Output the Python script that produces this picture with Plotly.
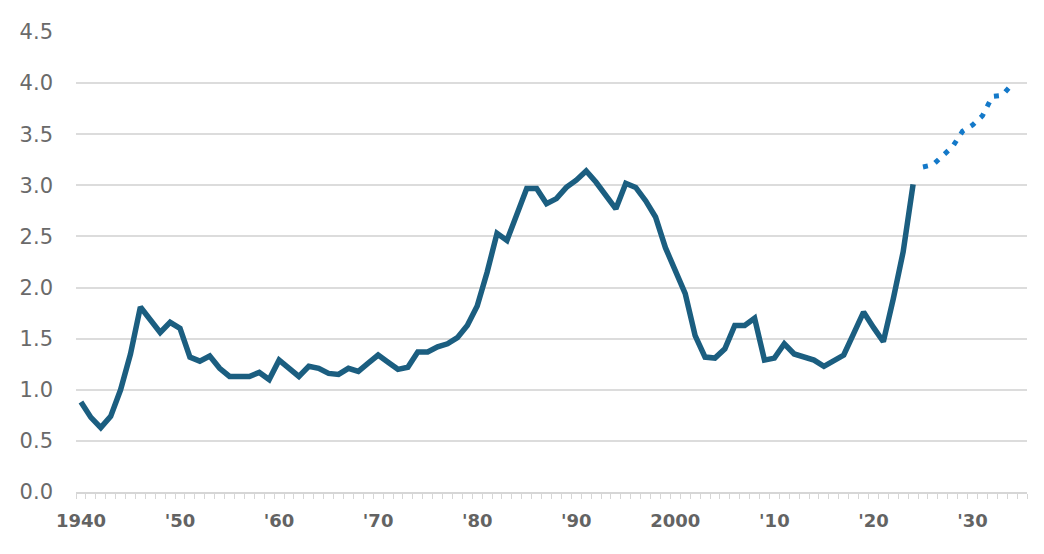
import plotly.graph_objs as go

# historical series, 1940-2024
anos = list(range(1940, 2025))
valores = [0.88, 0.73, 0.63, 0.74, 1.00, 1.35, 1.81, 1.68, 1.56, 1.66,  # 1940s
           1.60, 1.32, 1.28, 1.33, 1.21, 1.13, 1.13, 1.13, 1.17, 1.10,  # 1950s
           1.29, 1.21, 1.13, 1.23, 1.21, 1.16, 1.15, 1.21, 1.18, 1.26,  # 1960s
           1.34, 1.27, 1.20, 1.22, 1.37, 1.37, 1.42, 1.45, 1.51, 1.63,  # 1970s
           1.82, 2.15, 2.53, 2.46, 2.72, 2.97, 2.97, 2.82, 2.87, 2.98,  # 1980s
           3.05, 3.14, 3.03, 2.90, 2.77, 3.02, 2.98, 2.85, 2.69, 2.39,  # 1990s
           2.18, 1.94, 1.53, 1.32, 1.31, 1.40, 1.63, 1.63, 1.70, 1.29,  # 2000s
           1.31, 1.45, 1.35, 1.32, 1.29, 1.23, 1.28, 1.34, 1.55, 1.76,  # 2010s
           1.61, 1.47, 1.89, 2.35, 3.01]                                # 2020s

# projection, 2025-2034
anos_proj = list(range(2025, 2035))
valores_proj = [3.18, 3.20, 3.29, 3.38, 3.53, 3.59, 3.68, 3.87, 3.88, 3.99]

# axis labels
x_ticks = [1940, 1950, 1960, 1970, 1980, 1990, 2000, 2010, 2020, 2030]
x_labels = ['1940', "'50", "'60", "'70", "'80", "'90", '2000', "'10", "'20", "'30"]
y_ticks = [0, 0.5, 1.0, 1.5, 2.0, 2.5, 3.0, 3.5, 4.0, 4.5]

linha = go.Scatter(x=anos,
                   y=valores,
                   mode='lines',
                   line={'color': '#1b5e80', 'width': 5.5},
                   hoverinfo='x+y')

projecao = go.Scatter(x=anos_proj,
                      y=valores_proj,
                      mode='lines',
                      line={'color': '#1479c9', 'width': 5, 'dash': '5px,8px'},
                      hoverinfo='x+y')

fonte = 'DejaVu Sans'
cinza = '#6a6a6a'

# page body has an 8px margin, so the figure is a bit smaller than the window
layout = go.Layout(width=1036, height=546,
                   margin={'l': 68, 'r': 17, 't': 18, 'b': 62},
                   paper_bgcolor='white',
                   plot_bgcolor='white',
                   showlegend=False,
                   xaxis={'range': [1939.5, 2035.5],
                          'tickmode': 'array',
                          'tickvals': x_ticks,
                          'ticktext': x_labels,
                          'ticks': '',
                          'showgrid': False,
                          'zeroline': False,
                          'showline': True,
                          'linecolor': '#d6d6d6',
                          'linewidth': 1.5,
                          'ticklabelstandoff': 12,
                          'tickfont': {'family': fonte, 'size': 18, 'color': '#636363', 'weight': 'bold'},
                          'minor': {'tickmode': 'linear', 'tick0': 1939.5, 'dtick': 1,
                                    'ticks': 'outside', 'ticklen': 5, 'tickwidth': 1.2,
                                    'tickcolor': '#d6d6d6', 'showgrid': False}},
                   yaxis={'range': [0, 4.5],
                          'tickmode': 'array',
                          'tickvals': y_ticks,
                          'tickformat': '.1f',
                          'ticks': '',
                          'showgrid': True,
                          'gridcolor': '#dcdcdc',
                          'gridwidth': 1.5,
                          'zeroline': False,
                          'showline': False,
                          'ticklabelstandoff': 22,
                          'tickfont': {'family': fonte, 'size': 21, 'color': cinza}})

fig = go.Figure(data=[linha, projecao], layout=layout)
fig.write_html("out.html")
